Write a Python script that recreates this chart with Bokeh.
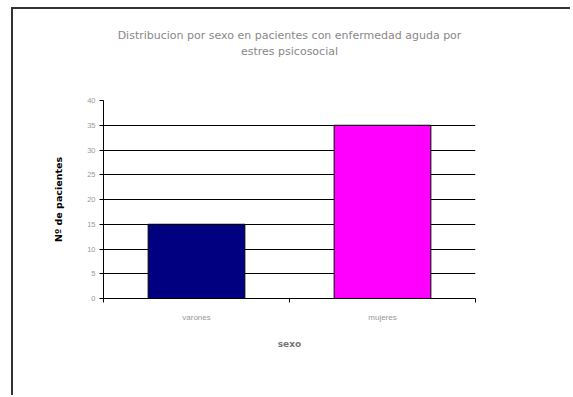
from bokeh.plotting import figure
from bokeh.models import FixedTicker, Range1d, Title
from bokeh.embed import file_html
from bokeh.resources import INLINE

categories = ["varones", "mujeres"]
pacientes = [15, 35]
colors = ["#000080", "#FF00FF"]
y_ticks = [0, 5, 10, 15, 20, 25, 30, 35, 40]
title_lines = ["Distribucion por sexo en pacientes con enfermedad aguda por", "estres psicosocial"]
y_label = "Nº de pacientes"
x_label = "sexo"

xpos = [i + 0.5 for i in range(len(categories))]
bounds = list(range(len(categories) + 1))

p = figure(width=559, height=388, output_backend="svg", toolbar_location=None,
           x_range=Range1d(0, len(categories)), y_range=Range1d(0, 40),
           min_border_left=90, min_border_right=97, min_border_top=91, min_border_bottom=99,
           margin=(7, 0, 0, 11),
           styles={"border": "none", "border-left": "2px solid #333", "border-top": "2px solid #333"})
p.title = None
spacer = Title(text=" ", align="center", text_font="DejaVu Sans", text_font_size="11px",
               text_color="white", standoff=27)
t2 = Title(text=title_lines[1], align="center", text_font="DejaVu Sans", text_font_size="11px",
           text_font_style="normal", text_color="#888888", standoff=2)
t1 = Title(text=title_lines[0], align="center", text_font="DejaVu Sans", text_font_size="11px",
           text_font_style="normal", text_color="#888888", standoff=0)
p.add_layout(spacer, "above")
p.add_layout(t2, "above")
p.add_layout(t1, "above")

p.vbar(x=xpos, top=pacientes, width=0.52, fill_color=colors, line_color="black", line_width=1)

p.outline_line_color = None
p.background_fill_color = "white"
p.border_fill_color = "white"

p.xgrid.grid_line_color = None
p.ygrid.grid_line_color = "black"
p.ygrid.grid_line_width = 1
p.ygrid.ticker = FixedTicker(ticks=y_ticks)

p.yaxis.ticker = FixedTicker(ticks=y_ticks, minor_ticks=[])
p.yaxis.axis_line_color = "black"
p.yaxis.major_tick_in = 0
p.yaxis.major_tick_out = 4
p.yaxis.minor_tick_line_color = None
p.yaxis.major_label_text_font = "Arial"
p.yaxis.major_label_text_font_size = "7.5px"
p.yaxis.major_label_text_color = "#999999"
p.yaxis.major_label_standoff = 4
p.yaxis.axis_label = y_label
p.yaxis.axis_label_text_font = "DejaVu Sans"
p.yaxis.axis_label_text_font_size = "9.5px"
p.yaxis.axis_label_text_font_style = "bold"
p.yaxis.axis_label_text_color = "black"
p.yaxis.axis_label_standoff = 20

p.xaxis.ticker = FixedTicker(ticks=xpos, minor_ticks=bounds)
p.xaxis.major_label_overrides = {x: c for x, c in zip(xpos, categories)}
p.xaxis.axis_line_color = "black"
p.xaxis.major_tick_in = 0
p.xaxis.major_tick_out = 0
p.xaxis.minor_tick_in = 0
p.xaxis.minor_tick_out = 4
p.xaxis.minor_tick_line_color = "black"
p.xaxis.major_label_text_font = "Arial"
p.xaxis.major_label_text_font_size = "8px"
p.xaxis.major_label_text_color = "#999999"
p.xaxis.major_label_standoff = 10
p.xaxis.axis_label = x_label
p.xaxis.axis_label_text_font = "DejaVu Sans"
p.xaxis.axis_label_text_font_size = "9px"
p.xaxis.axis_label_text_font_style = "bold"
p.xaxis.axis_label_text_color = "#777777"
p.xaxis.axis_label_standoff = 14

open("out.html", "w").write(file_html(p, INLINE))
